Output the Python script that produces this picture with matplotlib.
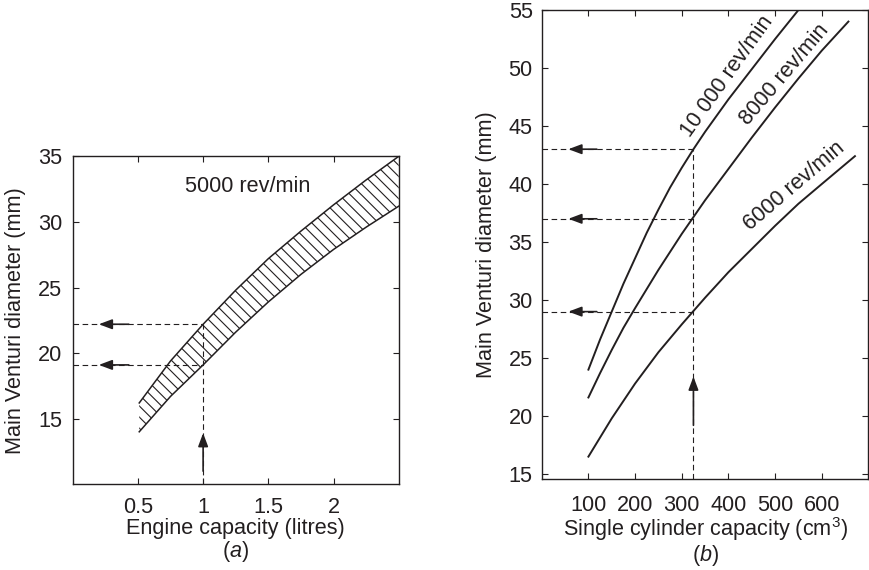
import matplotlib
matplotlib.use("Agg")
import matplotlib.pyplot as plt

plt.rcParams["font.family"] = ["Liberation Sans", "DejaVu Sans"]
plt.rcParams["mathtext.fontset"] = "custom"
plt.rcParams["mathtext.rm"] = "Liberation Sans"
plt.rcParams["mathtext.it"] = "Liberation Sans:italic"
plt.rcParams["hatch.linewidth"] = 0.8

INK = "#231f20"
plt.rcParams["hatch.color"] = INK

# (a) band for 5000 rev/min
cap_litres = [0.51, 0.75, 1.0, 1.25, 1.5, 1.75, 2.0, 2.25, 2.5]
venturi_upper = [16.2, 19.4, 22.2, 24.8, 27.2, 29.3, 31.3, 33.2, 35.0]
venturi_lower = [14.0, 16.7, 19.1, 21.6, 23.9, 26.0, 27.9, 29.6, 31.2]
read_cap_a = 1.0
read_diam_a = [22.2, 19.1]

# (b) single cylinder curves
cc_10000 = [100, 125, 150, 175, 200, 225, 250, 275, 300, 325, 350, 400, 450, 500, 550]
d_10000 = [24.0, 26.6, 29.0, 31.4, 33.6, 35.8, 37.8, 39.7, 41.4, 43.0, 44.5, 47.3, 49.9, 52.5, 55.0]
cc_8000 = [100, 125, 150, 175, 200, 250, 300, 350, 400, 450, 500, 550, 600, 657]
d_8000 = [21.6, 23.7, 25.7, 27.6, 29.3, 32.6, 35.7, 38.6, 41.3, 44.0, 46.6, 49.1, 51.5, 54.0]
cc_6000 = [100, 150, 200, 250, 300, 350, 400, 450, 500, 550, 600, 671]
d_6000 = [16.5, 19.8, 22.8, 25.5, 27.9, 30.2, 32.4, 34.4, 36.4, 38.3, 40.0, 42.4]
read_cc_b = 325
read_diam_b = [43.0, 37.0, 29.0]

FS = 15.6
dash = (0, (5, 3.2))
arrow_kw = dict(arrowstyle="-|>,head_length=0.8,head_width=0.3", color=INK,
                lw=1.2, shrinkA=0, shrinkB=0, mutation_scale=10)


def style_axes(ax, xpad, ypad):
    for s in ax.spines.values():
        s.set_linewidth(1.0)
        s.set_color(INK)
    ax.tick_params(direction="in", length=4.5, width=0.8, colors=INK,
                   top=True, right=True, labelsize=FS)
    ax.tick_params(axis="x", pad=xpad)
    ax.tick_params(axis="y", pad=ypad)


fig = plt.figure(figsize=(8.69, 5.70), dpi=100)

# ---- (a)
ax1 = fig.add_axes([0.0837, 0.1504, 0.3751, 0.5753])
ax1.fill_between(cap_litres, venturi_lower, venturi_upper, facecolor="none",
                 edgecolor=INK, hatch="\\\\\\", linewidth=0)
ax1.plot(cap_litres, venturi_upper, color=INK, lw=1.1)
ax1.plot(cap_litres, venturi_lower, color=INK, lw=1.1)

for d in read_diam_a:
    ax1.plot([0, read_cap_a], [d, d], color=INK, lw=0.8, ls=dash)
    ax1.annotate("", xy=(0.2, d), xytext=(0.43, d), arrowprops=arrow_kw)
ax1.plot([read_cap_a, read_cap_a], [10, max(read_diam_a)], color=INK, lw=0.8, ls=dash)
ax1.annotate("", xy=(read_cap_a, 13.9), xytext=(read_cap_a, 11.0), arrowprops=arrow_kw)

ax1.text(1.34, 32.7, "5000 rev/min", ha="center", va="center", fontsize=FS, color=INK)

ax1.set_xlim(0, 2.5)
ax1.set_ylim(10, 35)
ax1.set_xticks([0.5, 1, 1.5, 2])
ax1.set_xticklabels(["0.5", "1", "1.5", "2"])
ax1.set_yticks([15, 20, 25, 30, 35])
style_axes(ax1, 9.0, 7.5)
ax1.set_xlabel("Engine capacity (litres)\n($\\mathit{a}$)", fontsize=FS, color=INK,
               linespacing=1.0)
ax1.xaxis.set_label_coords(0.5, -0.103)
ax1.set_ylabel("Main Venturi diameter (mm)", fontsize=FS, color=INK)
ax1.yaxis.set_label_coords(-0.143, 0.5)

# ---- (b)
ax2 = fig.add_axes([0.6234, 0.1602, 0.3760, 0.8223])
ax2.plot(cc_10000, d_10000, color=INK, lw=1.4)
ax2.plot(cc_8000, d_8000, color=INK, lw=1.4)
ax2.plot(cc_6000, d_6000, color=INK, lw=1.4)

for d in read_diam_b:
    ax2.plot([0, read_cc_b], [d, d], color=INK, lw=0.8, ls=dash)
    ax2.annotate("", xy=(57, d), xytext=(118, d), arrowprops=arrow_kw)
ax2.plot([read_cc_b, read_cc_b], [14.6, max(read_diam_b)], color=INK, lw=0.8, ls=dash)
ax2.annotate("", xy=(read_cc_b, 23.4), xytext=(read_cc_b, 19.2), arrowprops=arrow_kw)

ax2.text(398, 49.3, "10 000 rev/min", rotation=54.5, ha="center", va="center",
         rotation_mode="anchor", fontsize=FS, color=INK)
ax2.text(519, 49.4, "8000 rev/min", rotation=49.6, ha="center", va="center",
         rotation_mode="anchor", fontsize=FS, color=INK)
ax2.text(541, 39.8, "6000 rev/min", rotation=40.4, ha="center", va="center",
         rotation_mode="anchor", fontsize=FS, color=INK)

ax2.set_xlim(0, 700)
ax2.set_ylim(14.6, 55)
ax2.set_xticks([100, 200, 300, 400, 500, 600])
ax2.set_yticks([15, 20, 25, 30, 35, 40, 45, 50, 55])
style_axes(ax2, 11.5, 6.5)
ax2.set_xlabel("Single cylinder capacity (cm$^3$)\n($\\mathit{b}$)", fontsize=FS,
               color=INK, linespacing=1.0)
ax2.xaxis.set_label_coords(0.5, -0.078)
ax2.set_ylabel("Main Venturi diameter (mm)", fontsize=FS, color=INK)
ax2.yaxis.set_label_coords(-0.138, 0.5)

fig.savefig("out.png", dpi=100)
